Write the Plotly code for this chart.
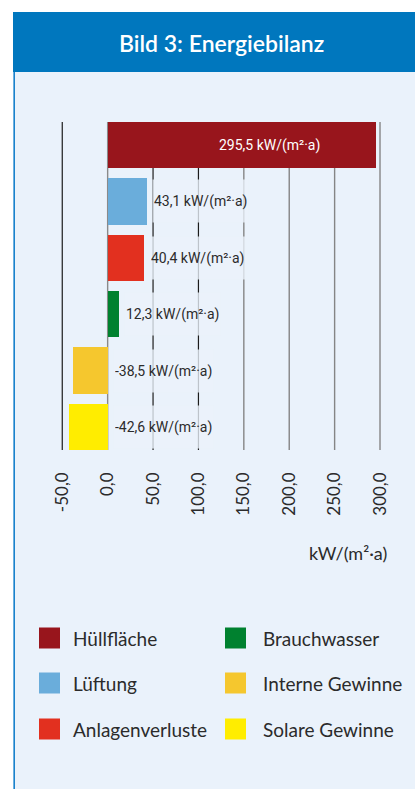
import plotly.graph_objects as go

# Energy balance data (kW/(m²·a))
categories = ["Hüllfläche", "Lüftung", "Anlagenverluste",
              "Brauchwasser", "Interne Gewinne", "Solare Gewinne"]
values = [295.5, 43.1, 40.4, 12.3, -38.5, -42.6]
colors = ["#98151C", "#6AADDB", "#E2301F", "#00812F", "#F5C72E", "#FFED00"]

tick_vals = [-50, 0, 50, 100, 150, 200, 250, 300]
tick_text = ["-50,0", "0,0", "50,0", "100,0", "150,0", "200,0", "250,0", "300,0"]
grid_colors = ["#1c1c1c", "#8a8a8a", "#1c1c1c", "#1c1c1c",
               "#858585", "#858585", "#858585", "#858585"]

unit = "kW/(m²·a)"
title = "Bild 3: Energiebilanz"

HEADER_BLUE = "#0077BE"
PANEL = "#EAF2FB"
TEXT = "#2b2b2b"

W, H = 415, 789
M_L, M_R, M_T, M_B = 53, 26, 122, 339
PW = W - M_L - M_R
PH = H - M_T - M_B


def px(x):
    """pixel column -> paper x"""
    return (x - M_L) / PW


def py(y):
    """pixel row (from top) -> paper y"""
    return (H - M_B - y) / PH


def de(v):
    return f"{v:.1f}".replace(".", ",")


fig = go.Figure()

fig.add_trace(go.Bar(
    y=categories,
    x=values,
    orientation="h",
    width=0.82,
    marker=dict(color=colors, line=dict(width=0)),
    showlegend=False,
    hoverinfo="skip",
))

shapes = []
# panel background, header band and left border
shapes.append(dict(type="rect", xref="paper", yref="paper",
                   x0=px(13), x1=px(W + 2), y0=py(H + 2), y1=py(72),
                   fillcolor=PANEL, line=dict(width=0), layer="below"))
shapes.append(dict(type="rect", xref="paper", yref="paper",
                   x0=px(13), x1=px(W + 2), y0=py(72), y1=py(12),
                   fillcolor=HEADER_BLUE, line=dict(width=0), layer="below"))
shapes.append(dict(type="line", xref="paper", yref="paper",
                   x0=px(14.2), x1=px(14.2), y0=py(72), y1=py(H + 2),
                   line=dict(color="#1a82cc", width=1.6), layer="below"))

# vertical grid lines at each tick
for tv, gc in zip(tick_vals, grid_colors):
    shapes.append(dict(type="line", xref="x", yref="paper",
                       x0=tv, x1=tv, y0=0, y1=1,
                       line=dict(color=gc, width=1.4 if gc != "#1c1c1c" else 1.2),
                       layer="below"))

annotations = []
annotations.append(dict(text=title, xref="paper", yref="paper",
                        x=px(221), y=py(43), xanchor="center", yanchor="middle",
                        showarrow=False,
                        font=dict(family="Lato", size=23, color="white", weight=600)))

# value labels
for i, (cat, v) in enumerate(zip(categories, values)):
    label = f"{de(v)} {unit}"
    if i == 0:
        annotations.append(dict(text=label, xref="x", yref="y", x=v, y=cat,
                                xanchor="right", yanchor="middle", xshift=-54,
                                showarrow=False,
                                font=dict(family="Roboto", size=14, color="white")))
    else:
        annotations.append(dict(text=label, xref="x", yref="y", x=max(v, 0), y=cat,
                                xanchor="left", yanchor="middle", xshift=5,
                                showarrow=False, height=40,
                                bgcolor="rgba(234,242,251,0.78)",
                                font=dict(family="Roboto", size=14, color=TEXT)))

# axis unit
annotations.append(dict(text=unit, xref="paper", yref="paper",
                        x=px(389), y=py(553), xanchor="right", yanchor="middle",
                        showarrow=False,
                        font=dict(family="Lato", size=18, color=TEXT)))

# legend: two columns of three entries
leg_cols = [(39, 71), (225, 261)]
leg_rows = [638, 683, 729]
for i, (cat, c) in enumerate(zip(categories, colors)):
    sx, tx = leg_cols[i // 3]
    cy = leg_rows[i % 3]
    shapes.append(dict(type="rect", xref="paper", yref="paper",
                       x0=px(sx), x1=px(sx + 21), y0=py(cy + 10.5), y1=py(cy - 10.5),
                       fillcolor=c, line=dict(width=0)))
    annotations.append(dict(text=cat, xref="paper", yref="paper",
                            x=px(tx), y=py(cy), xanchor="left", yanchor="middle",
                            showarrow=False,
                            font=dict(family="Lato", size=19, color=TEXT)))

fig.update_layout(
    width=W, height=H,
    margin=dict(l=M_L, r=M_R, t=M_T, b=M_B, pad=0),
    paper_bgcolor="white",
    plot_bgcolor="rgba(0,0,0,0)",
    shapes=shapes,
    annotations=annotations,
    bargap=0,
    xaxis=dict(
        range=[-60.2, 309.9],
        tickvals=tick_vals, ticktext=tick_text,
        tickangle=-90,
        tickfont=dict(family="Lato", size=17, color=TEXT),
        showgrid=False, zeroline=False, showline=False,
        ticks="", ticklabelstandoff=18,
        fixedrange=True,
    ),
    yaxis=dict(
        categoryorder="array", categoryarray=categories,
        range=[5.41, -0.41],
        showticklabels=False, showgrid=False, zeroline=False, showline=False,
        fixedrange=True,
    ),
)

fig.write_html("out.html", config={"displayModeBar": False})
